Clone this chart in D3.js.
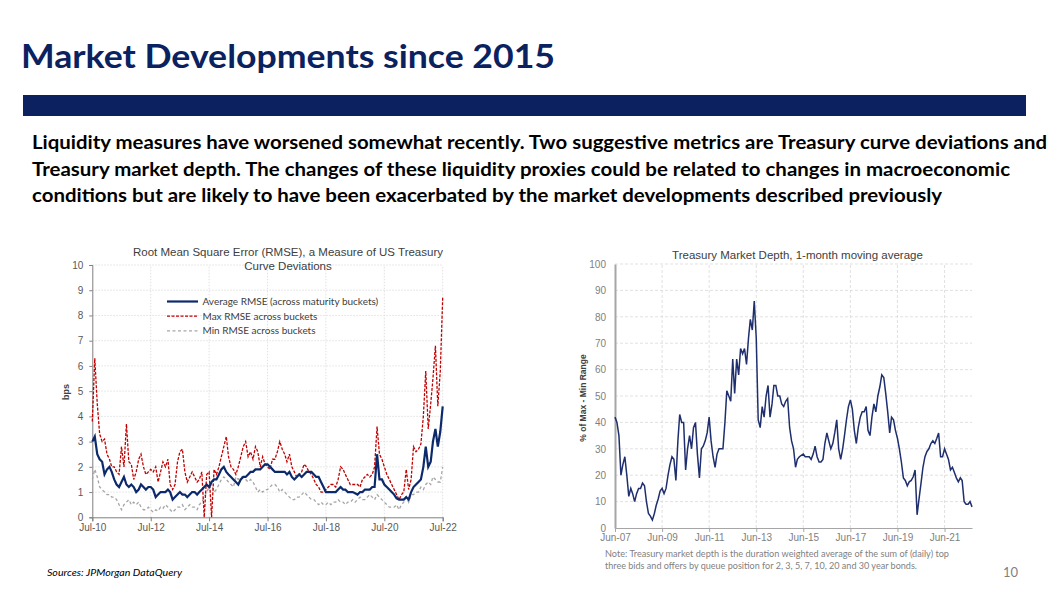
<!DOCTYPE html>
<html><head><meta charset="utf-8">
<script src="https://cdn.jsdelivr.net/npm/d3@7"></script>
<style>body{margin:0;background:#fff}</style>
</head><body>
<svg id="c" width="1064" height="612" xmlns="http://www.w3.org/2000/svg"></svg>
<script>
// ---------- DATA ----------
const rmseStart = "2010-07"; // monthly observations
const rmseAvg = [3.0,3.2,2.5,2.3,2.2,1.7,1.9,2.0,1.8,1.5,
 1.3,1.2,1.4,1.6,1.3,1.2,1.3,1.2,1.0,1.1,
 1.3,1.2,1.1,1.2,1.2,1.1,0.8,0.9,1.0,1.0,
 1.0,1.1,1.0,0.7,0.8,0.9,1.0,0.9,0.9,0.8,
 0.9,1.0,1.0,0.9,1.0,1.1,1.2,1.3,1.2,1.4,
 1.5,1.5,1.7,1.9,2.0,1.8,1.7,1.6,1.5,1.4,
 1.3,1.5,1.6,1.6,1.7,1.8,1.8,1.9,1.9,1.9,
 2.0,2.1,2.1,2.0,1.9,1.8,1.8,1.8,1.8,1.8,
 1.7,1.8,1.6,1.5,1.6,1.7,1.6,1.7,1.8,1.8,
 1.8,1.7,1.6,1.6,1.4,1.2,1.0,1.0,1.0,1.0,
 1.0,1.1,1.2,1.1,1.1,1.0,1.0,1.0,0.95,0.9,
 1.0,1.0,1.1,1.1,1.1,1.2,1.2,2.5,1.5,1.5,
 1.3,1.2,1.1,1.0,0.9,0.75,0.7,0.7,0.7,0.8,
 0.7,1.0,1.2,1.3,1.4,1.5,2.0,2.8,2.0,2.2,
 3.0,3.5,2.8,3.4,4.4];
const rmseMax = [3.8,6.3,4.5,3.3,3.0,3.1,2.5,2.3,2.0,2.0,
 1.8,1.7,2.8,2.0,3.7,2.2,2.1,1.5,1.8,2.3,
 2.5,2.0,1.7,1.8,1.9,1.8,2.0,1.4,1.8,2.2,
 2.0,2.3,1.3,1.1,1.3,2.2,2.6,2.7,1.8,1.4,
 1.6,1.8,1.6,1.4,1.5,1.8,0.0,1.7,1.8,0.0,
 1.9,1.7,2.0,2.4,2.8,3.2,2.4,2.0,1.9,1.7,
 2.0,2.4,2.8,3.0,2.4,2.6,2.3,2.8,2.6,2.0,
 2.4,2.1,2.0,1.9,2.3,2.3,2.6,3.0,2.7,2.5,
 2.2,2.5,2.0,1.8,1.6,1.7,1.8,2.1,2.0,1.8,
 1.7,1.5,1.3,1.2,1.0,1.0,1.1,1.2,1.3,1.3,
 1.2,1.5,2.0,1.9,1.7,1.5,1.3,1.3,1.3,1.3,
 1.2,1.5,1.6,1.7,1.6,1.7,2.0,3.6,2.5,2.3,
 2.0,1.7,1.5,1.3,1.1,0.9,0.7,0.9,1.0,1.9,
 1.1,1.5,2.8,2.6,2.7,2.9,4.0,5.8,3.5,4.5,
 5.5,6.8,4.4,5.8,8.7];
const rmseMin = [1.5,1.9,1.6,1.2,1.1,1.0,0.9,0.9,0.8,0.8,
 0.7,0.5,0.3,0.5,0.6,0.7,0.5,0.6,0.5,0.6,
 0.4,0.3,0.3,0.4,0.3,0.2,0.3,0.25,0.4,0.35,
 0.5,0.4,0.3,0.2,0.3,0.4,0.4,0.5,0.3,0.4,
 0.5,0.4,0.4,0.3,0.5,0.6,0.8,1.0,1.2,1.3,
 1.0,1.1,1.3,1.5,1.6,1.5,1.4,1.3,1.2,1.6,
 1.5,1.6,1.6,1.5,1.4,1.5,1.4,1.2,1.0,1.1,
 1.0,1.1,1.1,1.2,1.3,1.3,1.2,1.0,1.1,1.0,
 0.9,0.8,0.7,0.7,0.8,0.8,0.9,1.0,0.9,0.8,
 0.7,0.7,0.6,0.5,0.6,0.5,0.5,0.6,0.5,0.6,
 0.6,0.7,0.6,0.6,0.5,0.6,0.6,0.7,0.6,0.7,
 0.8,0.7,0.7,0.8,0.9,0.8,0.7,0.9,0.8,0.7,
 0.6,0.5,0.4,0.4,0.4,0.5,0.3,0.5,0.6,0.8,
 0.6,0.9,0.9,1.0,1.0,1.2,1.1,1.3,1.4,1.3,
 1.6,1.5,1.4,1.4,2.0];
const rmseXTicks = ["Jul-10","Jul-12","Jul-14","Jul-16","Jul-18","Jul-20","Jul-22"];
const rmseYTicks = [0,1,2,3,4,5,6,7,8,9,10];
const rmseLegend = ["Average RMSE (across maturity buckets)","Max RMSE across buckets","Min RMSE across buckets"];

const depthStart = "2007-06"; // monthly observations
const depthValues = [42,40,35,20,24,27,20,12,15,13,
 10,13,15,15,17,16,10,5.5,4.5,3,
 5.5,8.5,11,14,15,13,15,20,24,27,
 26,18,33,43,40,40,22,30,35,30,
 38,40,28,19,30,31,33,36,42,33,
 27,23,28,30,30,30,40,52,50,48,
 64,51,64,58,68,66,68,62,72,79,
 75,86,72,41,38,46,42,50,54,42,
 47,54,54,50,50,47,46,48,49,38,
 33,30,23,26,27,27.5,28,27,27,27,
 26,28,31,27,25,25,26,32,36,33,
 30,32,36,41,30,26,30,35,41,46,
 48.5,45,37,32,38,42,44,44,46,37,
 35,42,47,44,50,53.5,58,57,51,44,
 36,42,41,37,34,30,25,19,18,16,
 17.5,18,19.4,22,5,11,17,23,27,29,
 30,32,33,32,34,36,27,27,30,28,
 26,22,23,21,19,17.5,19,18,10,9,
 9,10,8];
const depthXTicks = ["Jun-07","Jun-09","Jun-11","Jun-13","Jun-15","Jun-17","Jun-19","Jun-21"];
const depthYTicks = [0,10,20,30,40,50,60,70,80,90,100];

// ---------- HELPERS ----------
const svg = d3.select("#c");
svg.append("rect").attr("width",1064).attr("height",612).attr("fill","#fff");
const parseYM = d3.timeParse("%Y-%m");
const parseTick = d3.timeParse("%b-%y");
const monthSeq = (start, n) => d3.range(n).map(i => d3.timeMonth.offset(parseYM(start), i));

function fitText(sel, x, y, txt, width, opts) {
  const t = svg.append("text").attr("x", x).attr("y", y).text(txt);
  for (const k in opts) t.attr(k, opts[k]);
  if (width) t.attr("textLength", width).attr("lengthAdjust", "spacingAndGlyphs");
  return t;
}

// ---------- HEADER ----------
fitText(svg, 21, 68, "Market Developments since 2015", 534,
  {"font-family":"Lato, 'Open Sans', sans-serif","font-weight":"bold","font-size":33,"fill":"#0b2260"});
svg.append("rect").attr("x",23).attr("y",95).attr("width",1003).attr("height",21).attr("fill","#0c2260");

const para = [
 ["Liquidity measures have worsened somewhat recently. Two suggestive metrics are Treasury curve deviations and", 1015],
 ["Treasury market depth. The changes of these liquidity proxies could be related to changes in macroeconomic", 978],
 ["conditions but are likely to have been exacerbated by the market developments described previously", 910]
];
para.forEach((p,i) => fitText(svg, 32, 149 + i*26.5, p[0], p[1],
  {"font-family":"Lato, 'Open Sans', sans-serif","font-weight":"bold","font-size":18,"fill":"#000"}));

// ---------- LEFT CHART ----------
const L = {x0:92.3, x1:442.7, y0:517.3, y1:265};
const lx = d3.scaleTime().domain([parseTick("Jul-10"), parseTick("Jul-22")]).range([L.x0, L.x1]);
const ly = d3.scaleLinear().domain([0,10]).range([L.y0, L.y1]);
const lg = svg.append("g");
// grid
lg.selectAll(".hg").data(rmseYTicks.slice(1)).join("line")
  .attr("x1",L.x0).attr("x2",L.x1).attr("y1",d=>ly(d)).attr("y2",d=>ly(d))
  .attr("stroke","#d9d9d9").attr("stroke-width",0.8).attr("stroke-dasharray","1.5,1.5");
lg.selectAll(".vg").data(rmseXTicks.slice(1)).join("line")
  .attr("x1",d=>lx(parseTick(d))).attr("x2",d=>lx(parseTick(d))).attr("y1",L.y0).attr("y2",L.y1)
  .attr("stroke","#d9d9d9").attr("stroke-width",0.8).attr("stroke-dasharray","1.5,1.5");
// axes
const lxa = lg.append("g").attr("transform",`translate(0,${L.y0})`)
  .call(d3.axisBottom(lx).tickValues(rmseXTicks.map(parseTick)).tickFormat(d3.timeFormat("%b-%y")).tickSize(4).tickPadding(3));
const lya = lg.append("g").attr("transform",`translate(${L.x0},0)`)
  .call(d3.axisLeft(ly).tickValues(rmseYTicks).tickFormat(d3.format("d")).tickSize(3).tickPadding(6));
[lxa,lya].forEach(a => {
  a.select(".domain").attr("stroke","#7f7f7f").attr("stroke-width",1);
  a.selectAll(".tick line").attr("stroke","#7f7f7f");
  a.selectAll("text").attr("font-family","'Liberation Sans', Arial, sans-serif").attr("font-size",10).attr("fill","#595959");
});
// series
const lDates = monthSeq(rmseStart, rmseAvg.length);
const lline = d3.line().x((d,i)=>lx(lDates[i])).y(d=>ly(d));
lg.append("path").datum(rmseMin).attr("d",lline).attr("fill","none")
  .attr("stroke","#a6a6a6").attr("stroke-width",1.3).attr("stroke-dasharray","3,2.5");
lg.append("path").datum(rmseMax).attr("d",lline).attr("fill","none")
  .attr("stroke","#c00000").attr("stroke-width",1.3).attr("stroke-dasharray","3,1.5");
lg.append("path").datum(rmseAvg).attr("d",lline).attr("fill","none")
  .attr("stroke","#0c2a6b").attr("stroke-width",2.2);
// title
lg.append("text").attr("x",288).attr("y",256).attr("text-anchor","middle")
  .attr("font-family","'Liberation Sans', Arial, sans-serif").attr("font-size",11.5).attr("fill","#404040")
  .text("Root Mean Square Error (RMSE), a Measure of US Treasury");
lg.append("text").attr("x",288).attr("y",269.5).attr("text-anchor","middle")
  .attr("font-family","'Liberation Sans', Arial, sans-serif").attr("font-size",11.5).attr("fill","#404040")
  .text("Curve Deviations");
// y label
lg.append("text").attr("transform","translate(69,392) rotate(-90)").attr("text-anchor","middle")
  .attr("font-family","'Liberation Sans', Arial, sans-serif").attr("font-size",9).attr("font-weight","bold").attr("fill","#404040")
  .text("bps");
// legend
const legStyles = [
  {stroke:"#0c2a6b", w:2.2, dash:null},
  {stroke:"#c00000", w:1.3, dash:"3,1.5"},
  {stroke:"#a6a6a6", w:1.3, dash:"3,2.5"}
];
rmseLegend.forEach((t,i) => {
  const y = 301.5 + i*14.7;
  lg.append("line").attr("x1",167).attr("x2",198).attr("y1",y).attr("y2",y)
    .attr("stroke",legStyles[i].stroke).attr("stroke-width",legStyles[i].w)
    .attr("stroke-dasharray",legStyles[i].dash);
  lg.append("text").attr("x",202.5).attr("y",y+3.5)
    .attr("font-family","Lato, 'Open Sans', sans-serif").attr("font-size",10).attr("fill","#404040").text(t);
});

// ---------- RIGHT CHART ----------
const R = {x0:615, x1:972, y0:528, y1:264};
const rx = d3.scaleTime().domain([parseTick("Jun-07"), parseYM("2022-08")]).range([R.x0, R.x1]);
const ry = d3.scaleLinear().domain([0,100]).range([R.y0, R.y1]);
const rg = svg.append("g");
rg.selectAll(".hg").data(depthYTicks.slice(1)).join("line")
  .attr("x1",R.x0).attr("x2",R.x1).attr("y1",d=>ry(d)).attr("y2",d=>ry(d))
  .attr("stroke","#d9d9d9").attr("stroke-width",0.8).attr("stroke-dasharray","3,2");
rg.selectAll(".vg").data(depthXTicks.slice(1)).join("line")
  .attr("x1",d=>rx(parseTick(d))).attr("x2",d=>rx(parseTick(d))).attr("y1",R.y0).attr("y2",R.y1)
  .attr("stroke","#d9d9d9").attr("stroke-width",0.8).attr("stroke-dasharray","3,2");
const rxa = rg.append("g").attr("transform",`translate(0,${R.y0})`)
  .call(d3.axisBottom(rx).tickValues(depthXTicks.map(parseTick)).tickFormat(d3.timeFormat("%b-%y")).tickSize(4).tickSizeOuter(0).tickPadding(2));
const rya = rg.append("g").attr("transform",`translate(${R.x0},0)`)
  .call(d3.axisLeft(ry).tickValues(depthYTicks).tickFormat(d3.format("d")).tickSize(0).tickPadding(9));
rxa.select(".domain").attr("stroke","#a6a6a6").attr("stroke-width",1.2);
rxa.selectAll(".tick line").attr("stroke","#a6a6a6");
rya.select(".domain").attr("stroke","#a6a6a6").attr("stroke-width",2);
[rxa,rya].forEach(a => a.selectAll("text").attr("font-family","'Liberation Sans', Arial, sans-serif")
  .attr("font-size",10).attr("fill","#7f7f7f"));
const rDates = monthSeq(depthStart, depthValues.length);
rg.append("path").datum(depthValues)
  .attr("d", d3.line().x((d,i)=>rx(rDates[i])).y(d=>ry(d)))
  .attr("fill","none").attr("stroke","#1f2f6e").attr("stroke-width",1.5);
rg.append("text").attr("x",797.5).attr("y",259).attr("text-anchor","middle")
  .attr("font-family","'Liberation Sans', Arial, sans-serif").attr("font-size",11.5).attr("fill","#404040")
  .text("Treasury Market Depth, 1-month moving average");
rg.append("text").attr("transform","translate(586,398) rotate(-90)").attr("text-anchor","middle")
  .attr("font-family","'Liberation Sans', Arial, sans-serif").attr("font-size",8.5).attr("font-weight","bold").attr("fill","#404040")
  .text("% of Max - Min Range");
fitText(svg, 605, 557, "Note: Treasury market depth is the duration weighted average of the sum of (daily) top", 344,
  {"font-family":"Lato, 'Open Sans', sans-serif","font-size":9,"fill":"#7f7f7f"});
fitText(svg, 605, 569, "three bids and offers by queue position  for 2, 3, 5, 7, 10, 20 and 30 year bonds.", 312,
  {"font-family":"Lato, 'Open Sans', sans-serif","font-size":9,"fill":"#7f7f7f"});

// ---------- FOOTER ----------
fitText(svg, 47, 576, "Sources: JPMorgan DataQuery", 135,
  {"font-family":"Lato, 'Open Sans', sans-serif","font-size":9.5,"font-style":"italic","fill":"#000"});
svg.append("text").attr("x",1003).attr("y",577).attr("font-family","Lato, 'Open Sans', sans-serif")
  .attr("font-size",13).attr("fill","#7f7f7f").text("10");
</script>
</body></html>
